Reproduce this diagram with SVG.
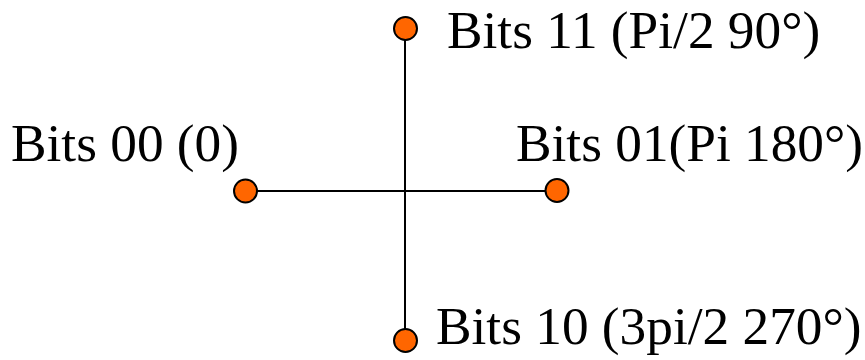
<svg xmlns="http://www.w3.org/2000/svg" width="865" height="360" viewBox="0 0 865 360">
<style>
.lbl{font-family:"Liberation Serif","Times New Roman",serif;font-size:53.3px;fill:#000}
.pt{fill:#ff6600;stroke:#000;stroke-width:2}
.ln{stroke:#000;stroke-width:2;fill:none}
</style>
<rect width="865" height="360" fill="#fff"/>
<g id="connectors">
<line class="ln" x1="405" y1="29" x2="405" y2="340"/>
<line class="ln" x1="246" y1="191" x2="557" y2="191"/>
</g>
<g id="n11"><circle class="pt" cx="405.5" cy="28.5" r="11.5"/><text class="lbl" x="447" y="48">Bits 11 (Pi/2 90°)</text></g>
<g id="n00"><circle class="pt" cx="245.5" cy="191" r="11.5"/><text class="lbl" x="11" y="161">Bits 00 (0)</text></g>
<g id="n01"><circle class="pt" cx="557" cy="190.5" r="11.5"/><text class="lbl" x="516" y="161">Bits 01(Pi 180°)</text></g>
<g id="n10"><circle class="pt" cx="405.5" cy="340.5" r="11.5"/><text class="lbl" x="436" y="344">Bits 10 (3pi/2 270°)</text></g>
</svg>
